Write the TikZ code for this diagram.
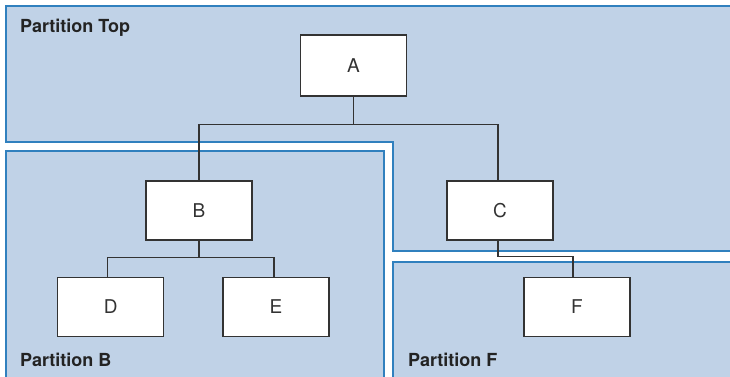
\documentclass[tikz,border=0pt]{standalone}
\usepackage{fontspec}
\setmainfont{TeX Gyre Heros}
\definecolor{partfill}{RGB}{192,210,231}
\definecolor{partline}{RGB}{48,128,190}
\definecolor{boxline}{RGB}{51,51,51}
\definecolor{labeltext}{RGB}{35,35,35}
\begin{document}
\begin{tikzpicture}[x=1pt,y=-1pt,
  partarea/.style={fill=partfill},
  partedge/.style={draw=partline,line width=1.4pt},
  nodebox/.style={draw=boxline,fill=white,line width=1.3pt,inner sep=0pt,
    minimum width=106pt,minimum height=59pt,font=\fontsize{19}{21}\selectfont,text=boxline},
  partlabel/.style={anchor=base west,inner sep=0pt,font=\fontsize{18}{20}\selectfont\bfseries,text=labeltext},
  link/.style={draw=boxline,line width=1.3pt}]
\useasboundingbox (0,0) rectangle (730,376);
\clip (0,0) rectangle (730,376);
\fill[white] (0,0) rectangle (730,376);
% partitions
\fill[partarea] (740,6) -- (6,6) -- (6,142) -- (393,142) -- (393,251) -- (740,251) -- cycle;
\draw[partedge] (740,6) -- (6,6) -- (6,142) -- (393,142) -- (393,251) -- (740,251);
\fill[partarea] (384,390) -- (384,151) -- (6,151) -- (6,390) -- cycle;
\draw[partedge] (384,390) -- (384,151) -- (6,151) -- (6,390);
\fill[partarea] (740,262) -- (393,262) -- (393,390) -- (740,390) -- cycle;
\draw[partedge] (740,262) -- (393,262) -- (393,390);
\node[partlabel] (lt) at (20,32) {Partition Top};
\node[partlabel] (lb) at (20,366) {Partition B};
\node[partlabel] (lf) at (408,366) {Partition F};
% boxes
\node[nodebox,minimum height=61pt] (A) at (353.5,65.5) {A};
\node[nodebox] (B) at (199,210.5) {B};
\node[nodebox] (C) at (500,210.5) {C};
\node[nodebox] (D) at (110.7,306.8) {D};
\node[nodebox] (E) at (276,306.8) {E};
\node[nodebox] (F) at (577,306.8) {F};
% connectors
\draw[link] (A.south) -- ++(0,28) -| (B.north);
\draw[link] (A.south) -- ++(0,28) -| ([xshift=-2pt]C.north);
\draw[link] ([xshift=-2pt]C.south) -- ++(0,16) -| ([xshift=-4pt]F.north);
\draw[link] (B.south) -- ++(0,17) -| ([xshift=-3pt]D.north);
\draw[link] (B.south) -- ++(0,17) -| ([xshift=-2pt]E.north);
\end{tikzpicture}
\end{document}
